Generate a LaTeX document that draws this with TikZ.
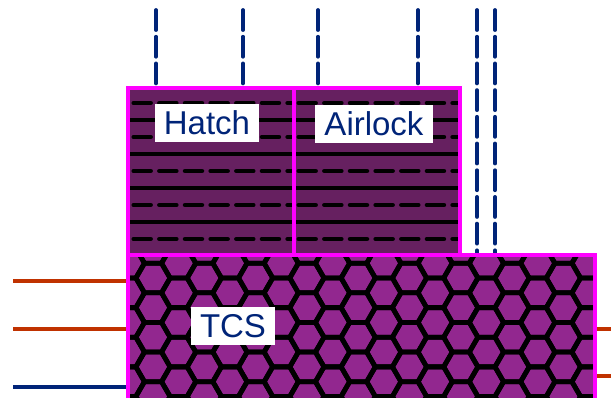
\documentclass[tikz,border=0pt]{standalone}
\usepackage{fontspec}
\setmainfont{Liberation Sans}
\definecolor{navy}{RGB}{0,36,120}
\definecolor{rust}{RGB}{192,50,0}
\definecolor{magC}{RGB}{255,0,255}
\definecolor{darkpur}{RGB}{102,32,96}
\definecolor{litpur}{RGB}{146,39,143}
\tikzset{
  wall/.style={draw=magC, line width=4pt},
  tag/.style={fill=white, text=navy, font=\fontsize{33}{33}\selectfont, inner sep=0pt, minimum height=38pt},
  vdash/.style={draw=navy, line width=3.8pt, line cap=round, dash pattern=on 20pt off 6.7pt},
  hdash/.style={draw=black, line width=4.5pt, line cap=round, dash pattern=on 17pt off 8.65pt},
  hsolid/.style={draw=black, line width=4.5pt},
  hexline/.style={draw=black, line width=4.8pt, line join=round},
  feed/.style={line width=4pt}
}
\begin{document}
\begin{tikzpicture}[x=1pt,y=-1pt]
\useasboundingbox (0,0) rectangle (611,397);
% corners
\coordinate (UL) at (128,87.5);
\coordinate (UR) at (460,254.5);
\coordinate (DivT) at (294,87.5);
\coordinate (DivB) at (294,254.5);
\coordinate (LL) at (128,254.5);
\coordinate (LR) at (595,400);
% fills
\fill[darkpur] (UL) rectangle (UR);
\fill[litpur] (LL) rectangle (LR);
% horizontal lines in upper module
\foreach \y in {103,137,171,205,239} {
  \draw[hdash] (133.7,\y) -- (292,\y);
  \draw[hdash] (298.7,\y) -- (458,\y);
}
\foreach \y in {120,154,188,222} {
  \draw[hsolid] (128,\y) -- (294,\y);
  \draw[hsolid] (294,\y) -- (460,\y);
}
% hex pattern
\begin{scope}
\clip (LL) rectangle (LR);
\foreach \k in {-1,...,19} {
  \pgfmathsetmacro\cx{153+25.65*\k}
  \pgfmathsetmacro\off{ifthenelse(isodd(\k),-14.81,0)}
  \foreach \j in {-1,...,5} {
    \pgfmathsetmacro\cy{278+\off+29.62*\j}
    \draw[hexline] (\cx+17.1,\cy) -- (\cx+8.55,\cy+14.81) -- (\cx-8.55,\cy+14.81) -- (\cx-17.1,\cy) -- (\cx-8.55,\cy-14.81) -- (\cx+8.55,\cy-14.81) -- cycle;
  }
}
\end{scope}
% vertical lines
\foreach \x/\n in {156/a,243/b,318/c,418/d} {
  \coordinate (top\n) at (\x,10);
  \coordinate (bot\n) at (\x,87.5);
  \draw[vdash] (top\n) -- (bot\n);
}
\foreach \x/\n in {477/e,495/f} {
  \coordinate (top\n) at (\x,10);
  \coordinate (bot\n) at (\x,254.5);
  \draw[vdash] (top\n) -- (bot\n);
}
% side feeds
\coordinate (l1) at (13,281); \coordinate (l1e) at (128,281);
\coordinate (l2) at (13,328.5); \coordinate (l2e) at (128,328.5);
\coordinate (l3) at (13,386.5); \coordinate (l3e) at (128,386.5);
\coordinate (r1) at (595,328.5); \coordinate (r1e) at (611,328.5);
\coordinate (r2) at (595,375.5); \coordinate (r2e) at (611,375.5);
\draw[feed, rust] (l1) -- (l1e);
\draw[feed, rust] (l2) -- (l2e);
\draw[feed, navy] (l3) -- (l3e);
\draw[feed, rust] (r1) -- (r1e);
\draw[feed, rust] (r2) -- (r2e);
% walls
\draw[wall] (LL) rectangle (LR);
\draw[wall] (UL) rectangle (UR);
\draw[wall] (DivT) -- (DivB);
% labels
\node[tag, minimum width=104pt] (hatch) at (207,123) {Hatch};
\node[tag, minimum width=118pt] (airlock) at (374,123.5) {Airlock};
\node[tag, minimum width=84pt] (tcs) at (233,326) {TCS};
\end{tikzpicture}
\end{document}
